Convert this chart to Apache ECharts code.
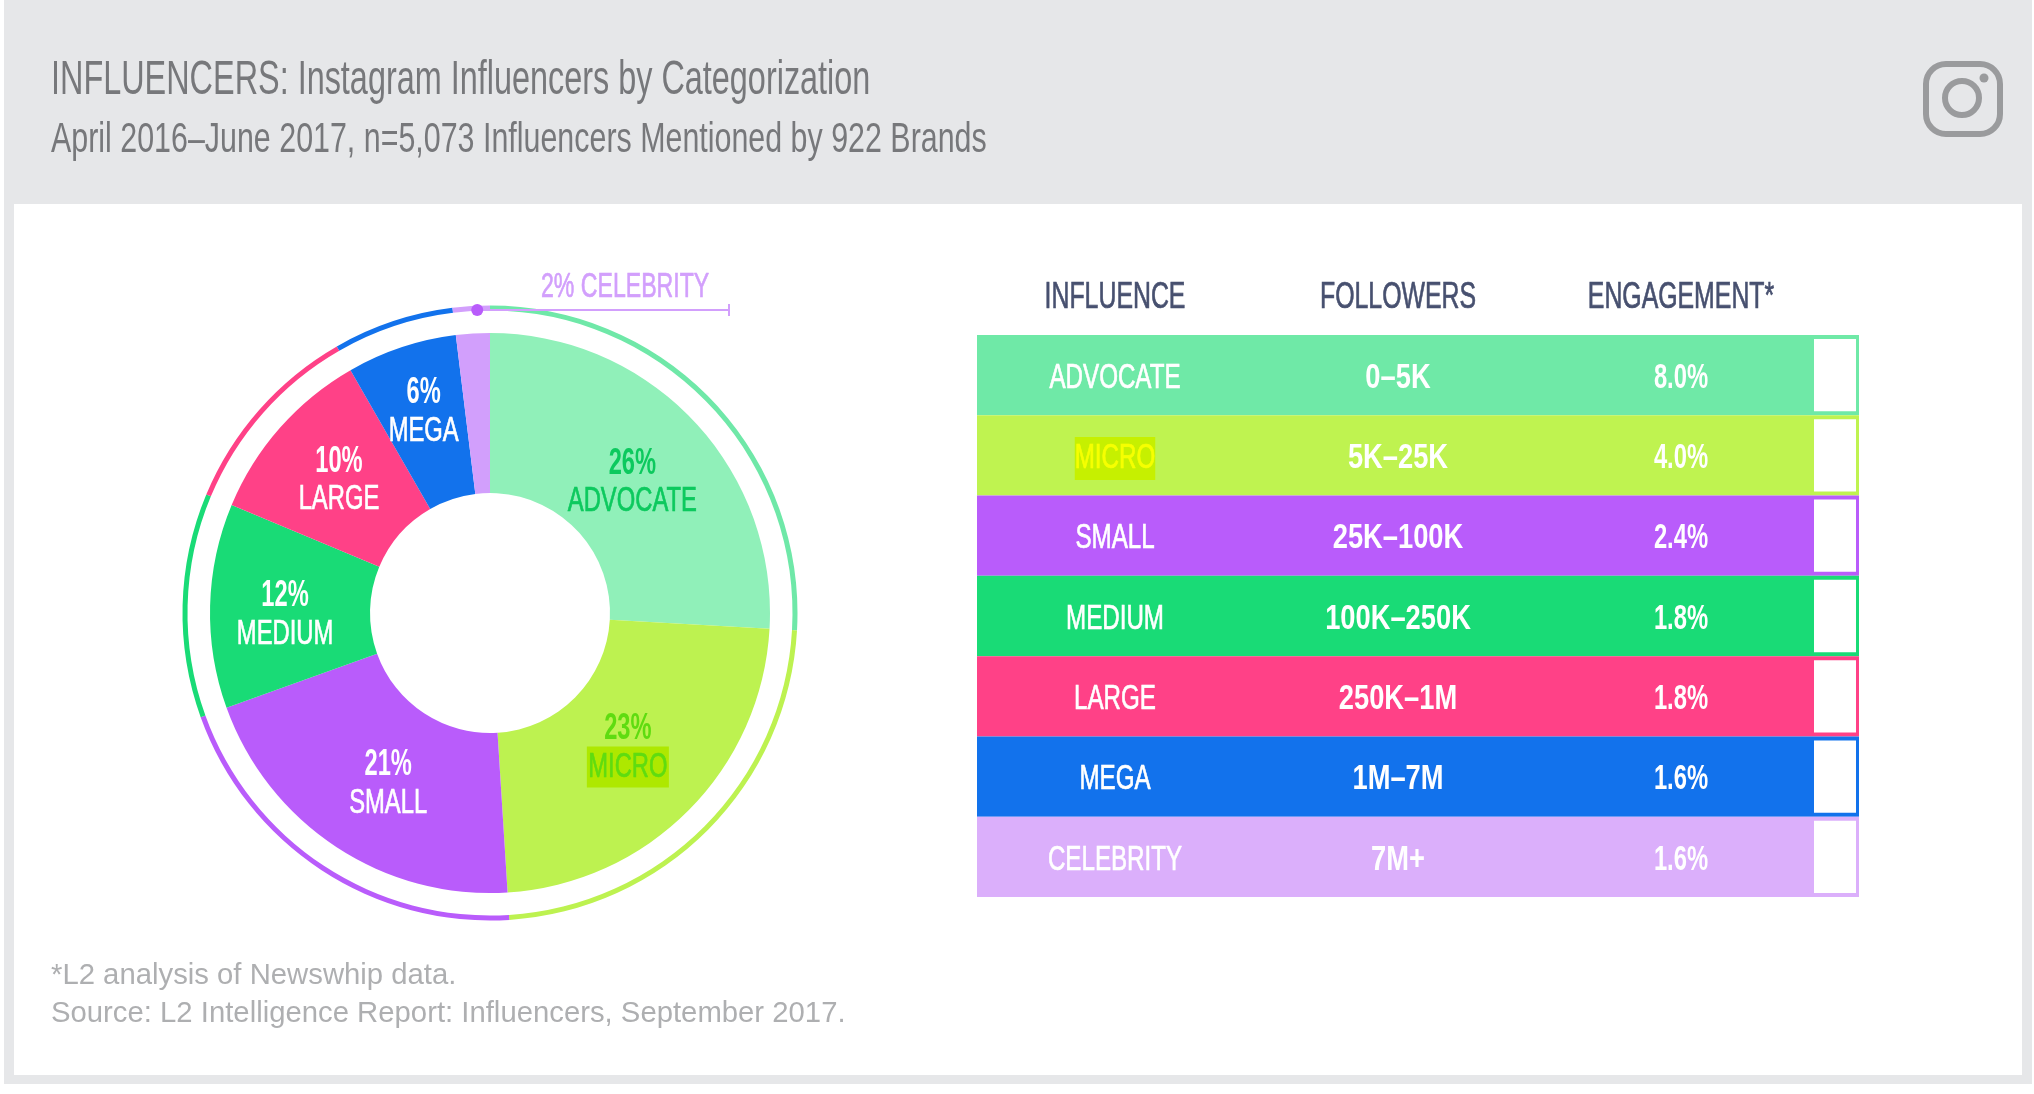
<!DOCTYPE html>
<html>
<head>
<meta charset="utf-8">
<title>Instagram Influencers by Categorization</title>
<style>
html, body { margin: 0; padding: 0; background: #fff; }
#chart { width: 2034px; height: 1094px; }
</style>
<script src="https://cdn.jsdelivr.net/npm/echarts@6/dist/echarts.min.js"></script>
</head>
<body>
<div id="chart"></div>
<script>
// values
var tiers = ['ADVOCATE', 'MICRO', 'SMALL', 'MEDIUM', 'LARGE', 'MEGA', 'CELEBRITY'];
var shares = [26, 23, 21, 12, 10, 6, 2];
// the printed shares are rounded, the slices themselves measure like this
var sliceSizes = [25.9, 23.1, 20.5, 11.8, 10.4, 6.35, 1.95];
var followers = ['0–5K', '5K–25K', '25K–100K', '100K–250K', '250K–1M', '1M–7M', '7M+'];
var engagement = ['8.0%', '4.0%', '2.4%', '1.8%', '1.8%', '1.6%', '1.6%'];
var columns = ['INFLUENCE', 'FOLLOWERS', 'ENGAGEMENT*'];

var titleText = 'INFLUENCERS: Instagram Influencers by Categorization';
var subtitleText = 'April 2016–June 2017, n=5,073 Influencers Mentioned by 922 Brands';
var noteText = '*L2 analysis of Newswhip data.';
var sourceText = 'Source: L2 Intelligence Report: Influencers, September 2017.';

var pieColors = ['#90f0b9', '#bdf250', '#b95cfb', '#19db76', '#ff4187', '#1272ec', '#d29ffc'];
var ringColors = ['#6fe8a8', '#bdf250', '#b95cfb', '#19db76', '#ff4187', '#1272ec', '#d29ffc'];
var rowColors = ['#6fe9a7', '#bff350', '#b95cfb', '#19db76', '#ff4187', '#1272ec', '#dbaffb'];

var font = '"Liberation Sans", sans-serif';
var cx = 490, cy = 613, rInner = 120, rOuter = 280;

// small shifts so the labels sit where they do in the picture
var labelShift = [[-3, 7], [-4, -6], [8, 4], [-5, 7], [-1, 0], [-3, -11]];

var pieData = tiers.map(function (name, i) {
    return { name: name, value: sliceSizes[i], itemStyle: { color: pieColors[i] } };
});
var ringData = tiers.map(function (name, i) {
    return { name: name, value: sliceSizes[i], itemStyle: { color: ringColors[i] } };
});
var rowData = tiers.map(function (name, i) {
    return [i, followers[i], engagement[i]];
});

function squeezed(str, x, y, size, fill, sx, bold, extra) {
    var style = {
        text: str,
        fill: fill,
        align: 'center',
        verticalAlign: 'middle',
        fontFamily: font,
        fontSize: size,
        fontWeight: bold ? 'bold' : 'normal'
    };
    if (!bold) {
        // the original face is a bit heavier than the regular cut here
        style.stroke = fill;
        style.lineWidth = 0.7;
    }
    if (extra) {
        style.backgroundColor = extra.bg;
        style.padding = extra.padding;
    }
    return { type: 'text', x: x, y: y, scaleX: sx, style: style };
}

function sliceLabel(i) {
    var before = 0, total = 0;
    sliceSizes.forEach(function (v, k) {
        total += v;
        if (k < i) before += v;
    });
    var mid = (before + sliceSizes[i] / 2) / total * 2 * Math.PI;
    var rMid = (rInner + rOuter) / 2;
    var x = cx + rMid * Math.sin(mid) + labelShift[i][0];
    var y = cy - rMid * Math.cos(mid) + labelShift[i][1];
    var pct = '#fff', nameCol = '#fff', extra = null;
    if (i === 0) { pct = '#0cc95e'; nameCol = '#0cc95e'; }
    if (i === 1) { pct = '#5fdc10'; nameCol = '#5fdc10'; extra = { bg: '#aee800', padding: [3, 2, 3, 2] }; }
    return [
        squeezed(shares[i] + '%', x, y - 19, 37, pct, 0.64, true),
        squeezed(tiers[i], x, y + 19, 35, nameCol, 0.68, false, extra)
    ];
}

function renderRow(params, api) {
    var i = api.value(0);
    var y = api.coord([0, i])[1];
    var h = api.size([0, 1])[1];
    var sys = params.coordSys;
    var rowLeft = sys.x + 3.5;
    var rowRight = sys.x + sys.width + 36.5;
    var microExtra = i === 1 ? { bg: '#c6f000', padding: [4, 0, 4, 0] } : null;

    var children = [
        { type: 'rect', shape: { x: rowLeft, y: y - h / 2, width: rowRight - rowLeft, height: h }, style: { fill: rowColors[i] } },
        { type: 'rect', shape: { x: rowRight - 45, y: y - h / 2 + 4, width: 42, height: h - 8 }, style: { fill: '#fff' } },
        squeezed(tiers[i], api.coord([0, i])[0], y + 3, 35, i === 1 ? '#f6ff00' : '#fff', 0.69, false, microExtra),
        squeezed(followers[i], api.coord([1, i])[0], y + 3, 35, '#fff', 0.78, true),
        squeezed(engagement[i], api.coord([2, i])[0], y + 3, 35, '#fff', 0.68, true)
    ];
    // column heads go with the first row, the axis cannot squeeze its labels
    if (i === 0) {
        columns.forEach(function (c, k) {
            children.push(squeezed(c, api.coord([k, 0])[0], sys.y - 37, 36, '#47506f', 0.69, false));
        });
    }
    // celebrity has its callout instead of a label inside the slice
    if (i < labelShift.length) {
        children = children.concat(sliceLabel(i));
    }
    return { type: 'group', children: children };
}

// callout leaves the ring inside the last slice
var dotAngle = (360 - shares[6] * 3.6 / 3) * Math.PI / 180;
var dotX = cx + 305 * Math.sin(dotAngle);

function flatText(str, x, y, size, fill, sx) {
    return {
        type: 'text', x: x, y: y, scaleX: sx, z: 10,
        style: { text: str, fill: fill, fontFamily: font, fontSize: size, verticalAlign: 'middle' }
    };
}

var option = {
    backgroundColor: '#fff',
    animation: false,
    grid: { left: 973.5, top: 335, width: 849, height: 562 },
    xAxis: {
        type: 'category',
        position: 'top',
        data: columns,
        axisLine: { show: false },
        axisTick: { show: false },
        splitLine: { show: false },
        axisLabel: { show: false }
    },
    yAxis: {
        type: 'category',
        inverse: true,
        data: tiers,
        axisLine: { show: false },
        axisTick: { show: false },
        splitLine: { show: false },
        axisLabel: { show: false }
    },
    series: [
        {
            type: 'pie',
            silent: true,
            center: [cx, cy],
            radius: [rInner, rOuter],
            startAngle: 90,
            label: { show: false },
            labelLine: { show: false },
            data: pieData
        },
        {
            type: 'pie',
            silent: true,
            center: [cx, cy],
            radius: [302.5, 307.5],
            startAngle: 90,
            label: { show: false },
            labelLine: { show: false },
            data: ringData
        },
        {
            type: 'custom',
            silent: true,
            clip: false,
            z: 5,
            renderItem: renderRow,
            encode: { x: -1, y: 0 },
            data: rowData
        }
    ],
    graphic: [
        { type: 'rect', z: 0, shape: { x: 4, y: 0, width: 2028, height: 1084 }, style: { fill: '#e6e7e9' } },
        { type: 'rect', z: 0, shape: { x: 14, y: 204, width: 2008, height: 871 }, style: { fill: '#fff' } },
        flatText(titleText, 51, 81, 48, '#77787b', 0.675),
        flatText(subtitleText, 51, 140, 42, '#77787b', 0.724),
        flatText(noteText, 51, 976, 29, '#aeafb1', 1.01),
        flatText(sourceText, 51, 1014, 29, '#aeafb1', 1.01),
        // instagram glyph
        { type: 'rect', z: 1, shape: { x: 1926, y: 64, width: 74, height: 70, r: 20 }, style: { fill: 'none', stroke: '#9a9b9d', lineWidth: 6 } },
        { type: 'circle', z: 1, shape: { cx: 1962, cy: 98, r: 17 }, style: { fill: 'none', stroke: '#9a9b9d', lineWidth: 6 } },
        { type: 'circle', z: 1, shape: { cx: 1984, cy: 78, r: 4.5 }, style: { fill: '#9a9b9d' } },
        // celebrity callout
        { type: 'line', z: 10, shape: { x1: dotX, y1: 310, x2: 729, y2: 310 }, style: { stroke: '#d29ffc', lineWidth: 2 } },
        { type: 'line', z: 10, shape: { x1: 729, y1: 304, x2: 729, y2: 316 }, style: { stroke: '#d29ffc', lineWidth: 2 } },
        { type: 'circle', z: 10, shape: { cx: dotX, cy: 310, r: 6 }, style: { fill: '#b95cfb' } },
        {
            type: 'text', x: 541, y: 287, scaleX: 0.66, z: 10,
            style: { text: shares[6] + '% ' + tiers[6], fill: '#d29ffc', stroke: '#d29ffc', lineWidth: 0.7, fontFamily: font, fontSize: 35, verticalAlign: 'middle' }
        }
    ]
};

var myChart = echarts.init(document.getElementById('chart'));
myChart.setOption(option);
</script>
</body>
</html>
